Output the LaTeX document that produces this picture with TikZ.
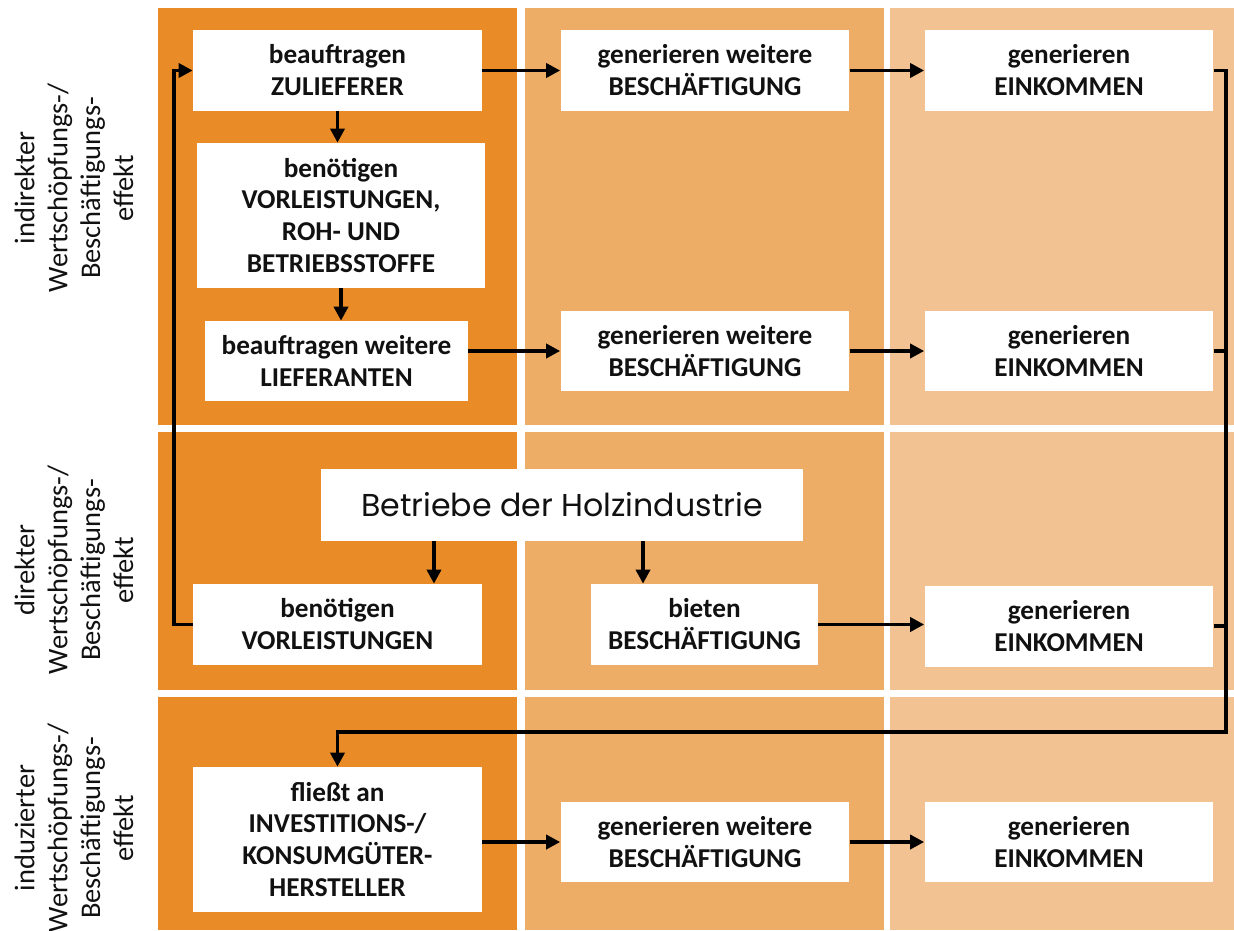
\documentclass[tikz,border=0pt]{standalone}
\usepackage{fontspec}
\setmainfont{Carlito}
\newfontfamily\holzfont{Poppins}
\usetikzlibrary{arrows.meta, positioning, calc}
\definecolor{colOne}{HTML}{E98C28}
\definecolor{colTwo}{HTML}{EDAD66}
\definecolor{colThree}{HTML}{F2C292}
\definecolor{inkOne}{HTML}{111111}
\tikzset{
  box/.style={fill=white, draw=none, inner sep=2pt, align=center, text=inkOne,
    font=\fontsize{15.5}{18.2}\selectfont\bfseries, minimum width=5.78cm, minimum height=1.62cm},
  side/.style={rotate=90, align=center, text=inkOne, font=\fontsize{16.2}{18.7}\selectfont},
  arr/.style={-{Triangle[length=8pt, width=8pt]}, draw=black, line width=2.2pt},
  link/.style={draw=black, line width=2.2pt},
}
\begin{document}
\begin{tikzpicture}[x=0.02cm, y=-0.02cm]
  \useasboundingbox (0,0) rectangle (1234,930);
  % ---- background cells, one colour per column
  \foreach \xa/\xb/\c in {158/517/colOne, 525/884/colTwo, 890/1234/colThree}
    \foreach \ya/\yb in {8/425, 432/690, 697/930}
      \fill[\c] (\xa,\ya) rectangle (\xb,\yb);
  % ---- row labels
  \node[side] (lInd) at (74,188) {indirekter\\Wertschöpfungs-/\\Beschäftigungs-\\effekt};
  \node[side] (lDir) at (74,570) {direkter\\Wertschöpfungs-/\\Beschäftigungs-\\effekt};
  \node[side] (lInz) at (74,828) {induzierter\\Wertschöpfungs-/\\Beschäftigungs-\\effekt};
  % ---- indirect effect
  \node[box] (zul) at (337.5,70.5) {beauftragen\\ZULIEFERER};
  \node[box, minimum width=5.76cm, minimum height=2.9cm] (vorl) at (341,215.5)
    {benötigen\\VORLEISTUNGEN,\\ROH- UND\\BETRIEBSSTOFFE};
  \node[box, minimum width=5.26cm, minimum height=1.6cm] (lief) at (336.5,361) {beauftragen weitere\\LIEFERANTEN};
  \node[box] (besA) at (705,70.5) {generieren weitere\\BESCHÄFTIGUNG};
  \node[box] (einA) at (1069,70.5) {generieren\\EINKOMMEN};
  \node[box, minimum height=1.6cm] (besB) at (705,351) {generieren weitere\\BESCHÄFTIGUNG};
  \node[box, minimum height=1.6cm] (einB) at (1069,351) {generieren\\EINKOMMEN};
  % ---- direct effect
  \node[box, minimum width=9.66cm, minimum height=1.44cm, font=\holzfont\fontsize{18}{20}\selectfont]
    (holz) at (562,505) {Betriebe der Holzindustrie};
  \node[box] (vorlD) at (337.5,624.5) {benötigen\\VORLEISTUNGEN};
  \node[box, minimum width=4.54cm] (biet) at (704.5,624.5) {bieten\\BESCHÄFTIGUNG};
  \node[box] (einC) at (1069,626) {generieren\\EINKOMMEN};
  % ---- induced effect
  \node[box, minimum height=2.9cm] (fl) at (337.5,839.5) {fließt an\\INVESTITIONS-/\\KONSUMGÜTER-\\HERSTELLER};
  \node[box, minimum height=1.6cm] (besC) at (705,842) {generieren weitere\\BESCHÄFTIGUNG};
  \node[box, minimum height=1.6cm] (einD) at (1069,842) {generieren\\EINKOMMEN};
  % ---- connectors
  \draw[arr] (zul.east) -- (besA.west);
  \draw[arr] (besA.east) -- (einA.west);
  \draw[arr] (zul.south) -- (zul.south |- vorl.north);
  \draw[arr] (vorl.south) -- (vorl.south |- lief.north);
  \draw[arr] (lief.east |- besB.west) -- (besB.west);
  \draw[arr] (besB.east) -- (einB.west);
  \draw[arr] ([xshift=1.93cm]vorlD.north |- holz.south) -- ([xshift=1.93cm]vorlD.north);
  \draw[arr] ([xshift=-1.23cm]biet.north |- holz.south) -- ([xshift=-1.23cm]biet.north);
  \draw[arr] (biet.east) -- (biet.east -| einC.west);
  \draw[arr] (vorlD.west) -- ++(-19,0) |- (zul.west);
  \coordinate (back) at (1226,732);
  \draw[arr] (einA.east) -| (back) -| (fl.north);
  \draw[link] (einB.east) -- (einB.east -| back);
  \draw[link] (einC.east) -- (einC.east -| back);
  \draw[arr] (fl.east |- besC.west) -- (besC.west);
  \draw[arr] (besC.east) -- (einD.west);
\end{tikzpicture}
\end{document}
